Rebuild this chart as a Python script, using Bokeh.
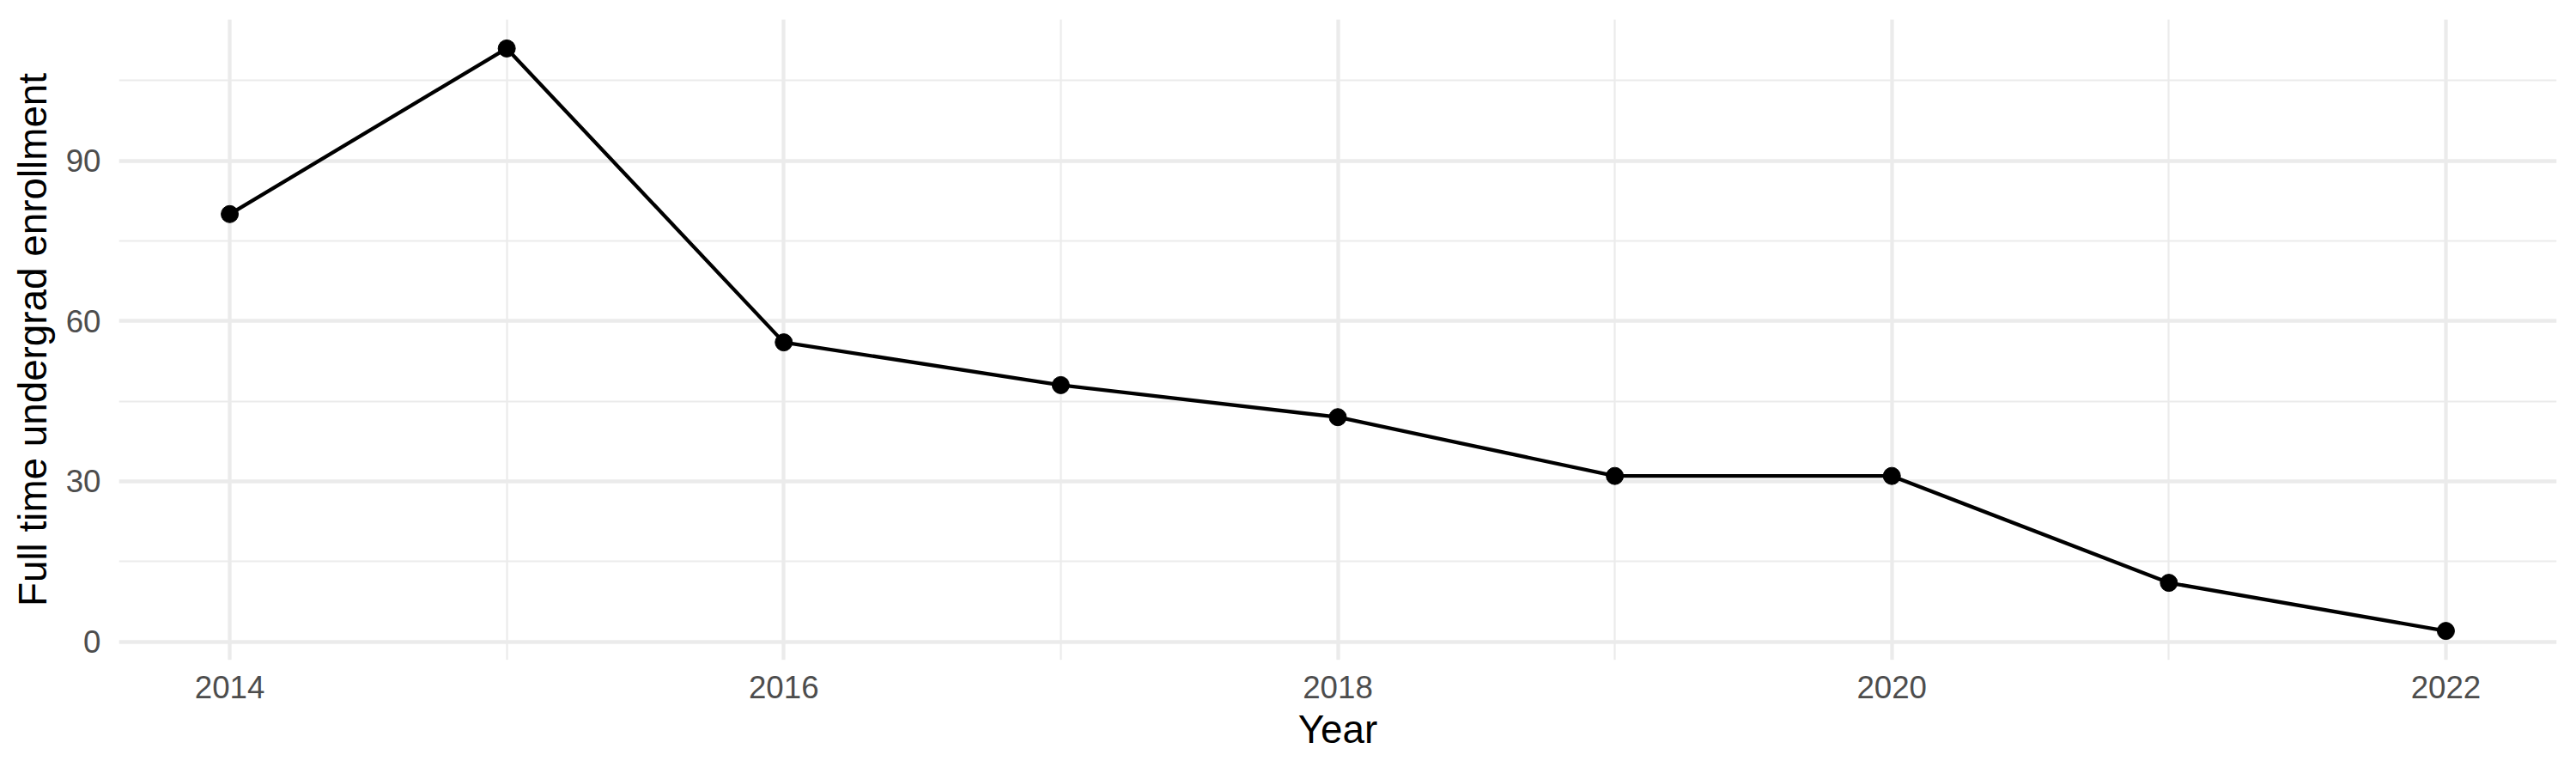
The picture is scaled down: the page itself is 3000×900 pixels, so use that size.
from bokeh.plotting import figure
from bokeh.models import Range1d, FixedTicker, ColumnDataSource
from bokeh.embed import file_html
from bokeh.resources import INLINE

years = [2014, 2015, 2016, 2017, 2018, 2019, 2020, 2021, 2022]
enrollment = [80, 111, 56, 48, 42, 31, 31, 11, 2]
x_ticks = [2014, 2016, 2018, 2020, 2022]
x_minor = [2015, 2017, 2019, 2021]
y_ticks = [0, 30, 60, 90]
y_minor = [15, 45, 75, 105]

src = ColumnDataSource(dict(year=years, value=enrollment))

span_x = max(years) - min(years)
span_y = max(enrollment) - min(enrollment)
p = figure(width=2984, height=884, output_backend="svg", toolbar_location=None,
           x_range=Range1d(min(years) - 0.05 * span_x, max(years) + 0.05 * span_x),
           y_range=Range1d(min(enrollment) - 0.05 * span_y, max(enrollment) + 0.05 * span_y),
           min_border_left=138, min_border_right=7, min_border_top=22, min_border_bottom=116)
p.outline_line_color = None
p.background_fill_color = "white"
p.border_fill_color = "white"

p.xaxis.ticker = FixedTicker(ticks=x_ticks, minor_ticks=x_minor)
p.yaxis.ticker = FixedTicker(ticks=y_ticks, minor_ticks=y_minor)

for g in (p.xgrid, p.ygrid):
    g.grid_line_color = "#EBEBEB"
    g.grid_line_width = 4.3
    g.minor_grid_line_color = "#EBEBEB"
    g.minor_grid_line_width = 2.2

for ax in (p.xaxis, p.yaxis):
    ax.axis_line_color = None
    ax.major_tick_line_color = None
    ax.minor_tick_line_color = None
    ax.major_tick_out = 0
    ax.major_tick_in = 0
    ax.minor_tick_out = 0
    ax.minor_tick_in = 0
    ax.major_label_text_font = "Liberation Sans"
    ax.major_label_text_font_size = "36.7px"
    ax.major_label_text_color = "#4D4D4D"
    ax.axis_label_text_font = "Liberation Sans"
    ax.axis_label_text_font_size = "45.8px"
    ax.axis_label_text_font_style = "normal"
    ax.axis_label_text_color = "black"

p.xaxis.axis_label = "Year"
p.yaxis.axis_label = "Full time undergrad enrollment"
p.xaxis.major_label_standoff = 18
p.xaxis.axis_label_standoff = 8
p.yaxis.major_label_standoff = 21
p.yaxis.axis_label_standoff = 10

p.line("year", "value", source=src, line_color="black", line_width=4.3)
p.scatter("year", "value", source=src, size=20, fill_color="black", line_color="black")

open("out.html", "w").write(file_html(p, INLINE))
